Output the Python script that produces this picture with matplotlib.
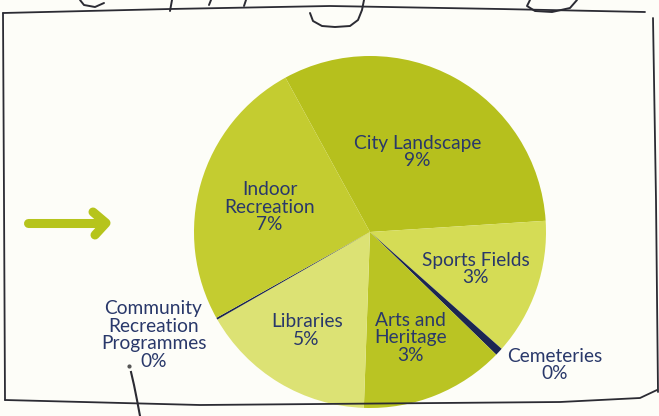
import matplotlib.pyplot as plt
import numpy as np

# spending shares, clockwise from the top
names = ["City Landscape", "Sports Fields", "Cemeteries", "Arts and\nHeritage",
         "Libraries", "Community\nRecreation\nProgrammes", "Indoor\nRecreation"]
values = [8.9, 3.5, 0.2, 3.7, 4.5, 0.05, 7.0]
pct_labels = ["9%", "3%", "0%", "3%", "5%", "0%", "7%"]
colors = ["#b6c01d", "#d5dc55", "#1c2652", "#bac423", "#dce274", "#1c2652", "#c4cc30"]

W, H = 659, 416
bg = "#fdfdf8"
navy = "#29386a"

fig = plt.figure(figsize=(W / 100, H / 100), dpi=100, facecolor=bg)

# pie axes: centre at (370, 232) px, radius 176 px, cut off at the bottom frame line
R = 176
cx, cy = 370, H - 232
bottom_px = 14
ax = fig.add_axes([(cx - R) / W, bottom_px / H, 2 * R / W, (cy + R - bottom_px) / H])
ax.pie(values, colors=colors, startangle=118.7, counterclock=False,
       wedgeprops=dict(linewidth=0))
ax.set_aspect("auto")
ax.set_xlim(-1, 1)
ax.set_ylim(-(cy - bottom_px) / R, 1)
ax.axis("off")

# label positions in pie units
label_pos = [(0.27, 0.455), (0.60, -0.21), (1.05, -0.755), (0.23, -0.60),
             (-0.36, -0.56), (-1.23, -0.585), (-0.57, 0.14)]
for name, pct, (lx, ly) in zip(names, pct_labels, label_pos):
    ax.text(lx, ly, name + "\n" + pct, ha="center", va="center", color=navy,
            fontsize=13.8, family="Lato", linespacing=1.03, clip_on=False)

# overlay for the hand-drawn frame, arrow and scribbles (pixel coords)
ov = fig.add_axes([0, 0, 1, 1], facecolor="none")
ov.set_xlim(0, W)
ov.set_ylim(H, 0)
ov.axis("off")

ink = "#2b2b33"
frame_top = np.array([(3, 13), (170, 9), (330, 6), (500, 9), (645, 12)])
frame_left = np.array([(3, 13), (4, 200), (5, 400)])
frame_bottom = np.array([(5, 400), (200, 405), (560, 402), (640, 398), (657, 390)])
frame_right = np.array([(653, 18), (656, 200), (658, 392)])
for seg in [frame_top, frame_left, frame_bottom, frame_right]:
    ov.plot(seg[:, 0], seg[:, 1], color=ink, lw=1.3, solid_capstyle="round")

# scribbled heading strokes cut off at the top
scribbles = [
    [(80, 0), (84, 5), (95, 7), (104, 3)],
    [(172, 0), (170, 11)],
    [(211, 0), (209, 5)],
    [(246, 0), (244, 6)],
    [(310, 13), (313, 21), (322, 26), (335, 27), (350, 26), (358, 20), (362, 10), (364, 0)],
    [(530, 0), (527, 6), (535, 11), (552, 12), (570, 8), (577, 0)],
]
for s in scribbles:
    s = np.array(s)
    ov.plot(s[:, 0], s[:, 1], color=ink, lw=1.4, solid_capstyle="round")

# pointer stroke near the community label
ov.plot([129], [366], marker="o", ms=2, color="#555555")
pointer = np.array([(131, 372), (134, 385), (137, 400), (140, 416)])
ov.plot(pointer[:, 0], pointer[:, 1], color=ink, lw=1.5)

# green arrow on the left
green = "#b6c41c"
ov.plot([28, 104], [223, 223], color=green, lw=6.5, solid_capstyle="round")
ov.plot([93, 106, 95], [212, 223, 235], color=green, lw=6.5,
        solid_capstyle="round", solid_joinstyle="round")

fig.savefig("out.png", dpi=100, facecolor=bg)
